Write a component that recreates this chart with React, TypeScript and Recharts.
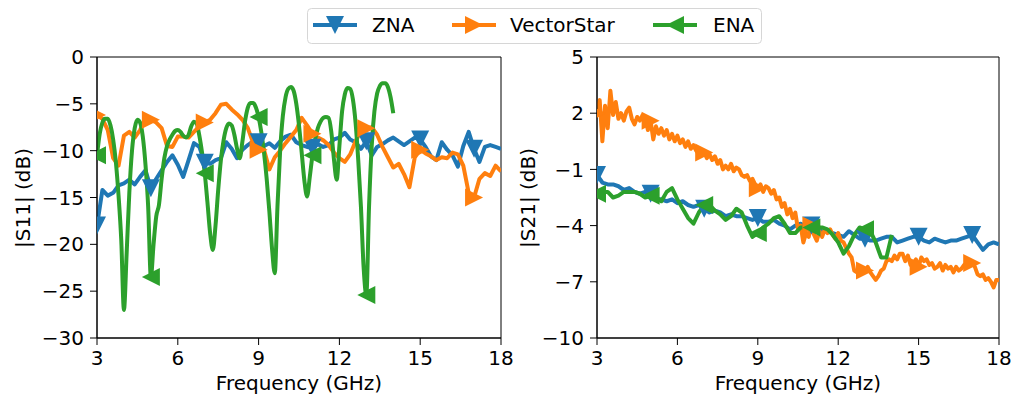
import React from "react";
import { LineChart, Line, XAxis, YAxis, ReferenceArea } from "recharts";

const FONT = "DejaVu Sans, Verdana, sans-serif";
const FS = 20;
const BLUE = "#1f77b4";
const ORANGE = "#ff7f0e";
const GREEN = "#2ca02c";

const freqTicks = [3, 6, 9, 12, 15, 18];
const s11Ticks = [-30, -25, -20, -15, -10, -5, 0];
const s21Ticks = [-10, -7, -4, -1, 2, 5];

// |S11| in dB, 3-18 GHz in 0.2 GHz steps
const znaS11 = [
  -18.0, -14.2, -14.8, -14.5, -13.7, -13.5, -13.1, -13.6, -12.8, -12.1,
  -14.0, -13.0, -12.1, -11.2, -10.5, -11.5, -12.8, -11.0, -9.2, -9.6,
  -11.3, -11.4, -11.0, -10.8, -9.1, -9.8, -10.8, -9.9, -9.4, -9.0,
  -9.1, -9.5, -9.2, -9.7, -9.0, -8.5, -8.3, -9.1, -9.4, -9.6,
  -9.7, -9.3, -9.6, -9.4, -8.8, -8.6, -8.1, -8.8, -9.1, -9.8,
  -9.0, -10.5, -9.6, -9.3, -8.9, -8.6, -9.0, -9.4, -9.0, -8.6,
  -8.8, -9.6, -10.6, -11.0, -9.1, -9.9, -10.5, -11.7, -9.5, -8.0,
  -9.8, -11.2, -9.6, -9.4, -9.6, -9.8,
];
const vectorStarS11 = [
  -6.2, -6.6, -7.8, -10.8, -11.6, -8.4, -8.0, -8.6, -7.8, -6.5,
  -6.7, -7.0, -7.6, -9.5, -9.6, -8.5, -8.5, -8.6, -8.0, -7.4,
  -7.0, -6.7, -6.0, -5.1, -5.0, -5.6, -6.1, -6.7, -7.6, -9.2,
  -9.9, -9.9, -12.0, -10.7, -10.0, -9.2, -8.5, -7.8, -6.5, -7.3,
  -8.2, -8.6, -8.9, -9.4, -10.2, -10.8, -11.2, -10.4, -9.0, -7.9,
  -7.6, -7.5, -8.3, -9.6, -10.7, -11.8, -11.4, -12.5, -13.9, -10.7,
  -9.9, -10.3, -10.6, -11.0, -10.7, -10.8, -10.2, -10.4, -11.6, -14.5,
  -15.0, -13.0, -12.4, -12.7, -11.6, -12.2,
];
// ENA |S11|, 3-14 GHz in 0.1 GHz steps
const enaS11 = [
  -10.5, -8.2, -7.0, -6.6, -6.6, -7.3, -8.8, -11.2, -14.8, -19.5,
  -27.0, -21.0, -14.5, -10.0, -7.6, -6.7, -7.0, -8.5, -11.5, -16.0,
  -23.5, -20.0, -17.0, -15.8, -13.0, -10.8, -9.5, -8.8, -8.3, -7.9,
  -7.8, -8.0, -8.4, -8.6, -8.3, -7.4, -6.9, -7.1, -8.4, -10.2,
  -12.4, -15.5, -18.8, -20.6, -18.0, -14.2, -11.0, -8.9, -7.6, -7.1,
  -7.3, -8.3, -9.8, -10.8, -9.0, -6.8, -5.4, -4.9, -4.9, -5.4,
  -6.4, -8.0, -10.2, -13.0, -16.5, -20.5, -23.1, -16.0, -10.0, -6.3,
  -4.3, -3.4, -3.2, -3.6, -5.0, -7.3, -10.2, -13.2, -14.9, -12.8,
  -10.5, -8.8, -7.6, -6.9, -6.5, -6.4, -6.5, -8.0, -11.0, -13.1,
  -9.5, -5.8, -4.0, -3.3, -3.4, -4.5, -7.0, -11.0, -16.0, -22.5,
  -25.4, -16.0, -9.5, -5.8, -3.9, -3.1, -2.8, -2.8, -3.2, -4.3,
  -6.0,
];

// |S21| in dB
const znaS21 = [
  -1.3, -1.7, -1.8, -1.8, -1.9, -2.1, -2.0, -2.2, -2.3, -2.2,
  -2.3, -2.6, -2.6, -2.7, -2.6, -2.8, -2.7, -2.9, -3.0, -2.9,
  -3.1, -3.3, -3.2, -3.3, -3.5, -3.4, -3.5, -3.5, -3.6, -3.7,
  -3.6, -3.8, -3.8, -3.7, -3.9, -4.0, -4.2, -4.0, -3.9, -4.1,
  -4.0, -4.2, -4.3, -4.3, -4.4, -4.5, -4.6, -4.3, -4.5, -4.7,
  -4.7, -4.8, -4.8, -4.7, -4.6, -4.6, -4.9, -4.8, -4.7, -4.6,
  -4.6, -4.8, -4.9, -4.7, -4.8, -4.9, -4.8, -4.8, -4.7, -4.6,
  -4.5, -4.9, -5.3, -5.0, -4.9, -5.0,
];
// VectorStar |S21|, 0.1 GHz steps
const vectorStarS21 = [
  2.0, 2.7, 0.5, 2.4, 1.2, 3.2, 1.9, 2.6, 1.7, 2.0,
  1.6, 2.1, 2.3, 1.7, 1.4, 1.8, 1.6, 1.9, 1.7, 1.1,
  1.6, 0.6, 1.3, 0.9, 1.2, 0.8, 1.1, 0.6, 0.9, 0.5,
  0.8, 0.4, 0.6, 0.2, 0.5, 0.1, 0.3, 0.0, -0.2, 0.0,
  -0.1, -0.4, -0.2, -0.5, -0.3, -0.7, -0.5, -1.0, -0.8, -1.0,
  -0.7, -1.1, -0.9, -1.0, -1.3, -1.4, -1.3, -1.6, -1.5, -1.8,
  -2.0, -1.8, -2.2, -1.9, -2.0, -2.3, -2.1, -2.6, -2.5, -3.0,
  -2.8, -3.4, -3.1, -3.6, -3.3, -4.2, -4.0, -4.9, -4.4, -4.6,
  -4.0, -4.5, -4.8, -4.3, -4.6, -4.2, -4.4, -4.2, -4.5, -4.7,
  -4.4, -4.8, -4.9, -5.2, -5.5, -5.7, -6.4, -6.5, -6.2, -6.4,
  -6.4, -6.2, -6.5, -6.7, -6.9, -6.7, -6.4, -6.3, -5.9, -5.8,
  -5.9, -5.6, -5.8, -5.5, -5.5, -5.9, -5.6, -6.1, -6.0, -5.8,
  -6.2, -5.7, -5.9, -5.8, -6.1, -6.0, -6.3, -6.2, -6.0, -6.4,
  -6.1, -6.3, -6.2, -6.5, -6.2, -6.4, -6.3, -6.1, -6.0, -6.1,
  -6.0, -6.2, -6.6, -6.7, -6.6, -6.9, -6.8, -7.0, -7.3, -6.9,
  -6.9,
];
// ENA |S21|, 3-14 GHz in 0.2 GHz steps
const enaS21 = [
  -2.3, -2.2, -2.2, -2.5, -2.4, -2.2, -2.2, -2.2, -2.3, -2.5,
  -2.4, -2.5, -2.7, -2.2, -2.0, -2.6, -3.1, -3.6, -3.9, -3.3,
  -2.9, -2.9, -3.2, -3.4, -3.7, -3.5, -3.1, -3.3, -4.0, -4.6,
  -4.4, -4.1, -3.9, -3.6, -3.5, -3.9, -4.4, -4.4, -4.1, -4.1,
  -4.1, -4.1, -4.1, -4.2, -4.5, -4.9, -5.5, -5.1, -4.5, -4.1,
  -4.2, -4.3, -4.9, -5.7, -5.7, -4.5,
];

// frequency sweep: start 3 GHz, fixed step
const sweep = (step: number, values: number[]) =>
  values.map((v, i) => ({ f: +(3 + i * step).toFixed(2), v }));

type Shape = "down" | "right" | "left";

function triangle(shape: Shape, cx: number, cy: number, s = 9) {
  if (shape === "down") return `${cx - s},${cy - s} ${cx + s},${cy - s} ${cx},${cy + s}`;
  if (shape === "right") return `${cx - s},${cy - s} ${cx - s},${cy + s} ${cx + s},${cy}`;
  return `${cx + s},${cy - s} ${cx + s},${cy + s} ${cx - s},${cy}`;
}

// marker every 2 GHz
const markerDot = (shape: Shape, color: string, every: number) => (props: any) => {
  const { cx, cy, index } = props;
  if (index % every !== 0 || cx == null || cy == null) return <g key={`n-${index}`} />;
  return <polygon key={`m-${index}`} points={triangle(shape, cx, cy)} fill={color} />;
};

const series = (
  id: string,
  data: { f: number; v: number }[],
  color: string,
  shape: Shape,
  every: number,
  type: "linear" | "monotone" = "linear"
) => (
  <Line
    key={id}
    data={data}
    dataKey="v"
    type={type}
    stroke={color}
    strokeWidth={4}
    strokeLinejoin="round"
    dot={markerDot(shape, color, every)}
    activeDot={false}
    isAnimationActive={false}
  />
);

const fmt = (v: number) => String(v).replace("-", "\u2212");

const tickStyle = { fill: "#000", fontSize: FS, fontFamily: FONT };

function Panel(props: {
  left: number;
  width: number;
  right: number;
  yWidth: number;
  domain: [number, number];
  yTicks: number[];
  yLabel: string;
  yLabelX: number;
  children: React.ReactNode;
}) {
  const { left, width, right, yWidth, domain, yTicks, yLabel, yLabelX } = props;
  const cx = (yWidth + width - right) / 2;
  return (
    <div style={{ position: "absolute", left, top: 0 }}>
      <LineChart width={width} height={398} margin={{ top: 57, right, bottom: 0, left: 0 }}>
        <XAxis
          type="number"
          dataKey="f"
          domain={[3, 18]}
          ticks={freqTicks}
          allowDataOverflow
          height={60}
          tickSize={7}
          tickMargin={6}
          tick={tickStyle}
          axisLine={{ stroke: "#000" }}
          tickLine={{ stroke: "#000" }}
          label={() => (
            <text x={cx} y={390} textAnchor="middle" fontSize={FS} fontFamily={FONT} fill="#000">
              Frequency (GHz)
            </text>
          )}
        />
        <YAxis
          type="number"
          domain={domain}
          ticks={yTicks}
          allowDataOverflow
          width={yWidth}
          tickSize={7}
          tickMargin={6}
          tick={tickStyle}
          tickFormatter={fmt}
          axisLine={{ stroke: "#000" }}
          tickLine={{ stroke: "#000" }}
          label={() => (
            <text
              x={yLabelX}
              y={198}
              dy="0.35em"
              transform={`rotate(-90 ${yLabelX} 198)`}
              textAnchor="middle"
              fontSize={FS}
              fontFamily={FONT}
              fill="#000"
            >
              {yLabel}
            </text>
          )}
        />
        <ReferenceArea x1={3} x2={18} y1={domain[0]} y2={domain[1]} fill="none" stroke="#000" strokeWidth={1} />
        {props.children}
      </LineChart>
    </div>
  );
}

const legendItems = [
  { name: "ZNA", color: BLUE, shape: "down" as Shape, x: 313, tx: 372 },
  { name: "VectorStar", color: ORANGE, shape: "right" as Shape, x: 452, tx: 510 },
  { name: "ENA", color: GREEN, shape: "left" as Shape, x: 653, tx: 713 },
];

export default function App() {
  return (
    <div style={{ position: "absolute", left: 0, top: 0, width: 1023, height: 398, background: "#fff" }}>
      <Panel left={0} width={520} right={19} yWidth={97} domain={[-30, 0]} yTicks={s11Ticks} yLabel="|S11| (dB)" yLabelX={23}>
        {series("zna11", sweep(0.2, znaS11), BLUE, "down", 10)}
        {series("vs11", sweep(0.2, vectorStarS11), ORANGE, "right", 10)}
        {series("ena11", sweep(0.1, enaS11), GREEN, "left", 20, "monotone")}
      </Panel>
      <Panel left={505} width={518} right={24} yWidth={92} domain={[-10, 5]} yTicks={s21Ticks} yLabel="|S21| (dB)" yLabelX={23}>
        {series("zna21", sweep(0.2, znaS21), BLUE, "down", 10)}
        {series("vs21", sweep(0.1, vectorStarS21), ORANGE, "right", 20)}
        {series("ena21", sweep(0.2, enaS21), GREEN, "left", 10)}
      </Panel>
      <svg width={1023} height={50} style={{ position: "absolute", left: 0, top: 0 }}>
        <rect x={307.5} y={8.5} width={454} height={35} rx={4} fill="#fff" fillOpacity={0.8} stroke="#d6d6d6" />
        {legendItems.map((it) => (
          <g key={it.name}>
            <line x1={it.x} x2={it.x + 44} y1={25} y2={25} stroke={it.color} strokeWidth={4} />
            <polygon points={triangle(it.shape, it.x + 22, 25)} fill={it.color} />
            <text x={it.tx} y={25} dy="0.36em" fontSize={FS} fontFamily={FONT} fill="#000">
              {it.name}
            </text>
          </g>
        ))}
      </svg>
    </div>
  );
}
